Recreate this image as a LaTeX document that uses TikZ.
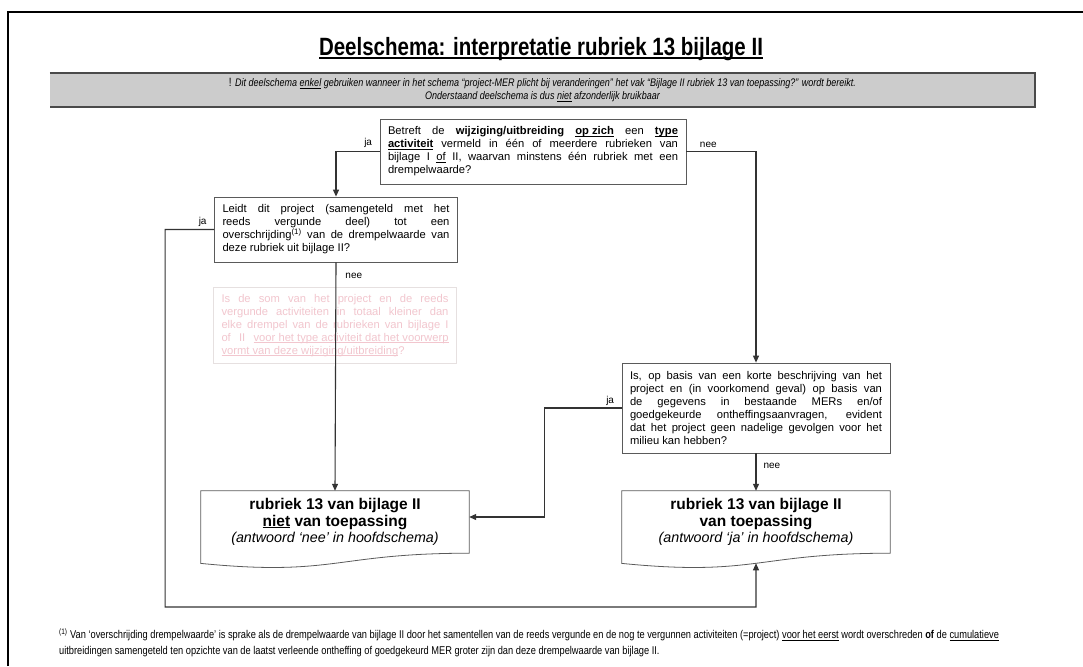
\documentclass[tikz,border=0pt]{standalone}
\usepackage{fontspec}
\setmainfont{Liberation Sans}
\newfontfamily\smalfont[FakeStretch=0.82]{Liberation Sans}
\usetikzlibrary{arrows.meta, calc}
\definecolor{mRand}{HTML}{5A5A5A}
\definecolor{mLijn}{HTML}{333333}
\definecolor{mBalk}{HTML}{CCCCCC}
\definecolor{mBalkRand}{HTML}{4A4A4A}
\definecolor{mVaag}{HTML}{F2C6CE}
\definecolor{mVaagRand}{HTML}{E6E0E0}
\hyphenpenalty=10000
\exhyphenpenalty=10000
\tolerance=9999
% onderstreping
\newcommand\ond[1]{\setbox0\hbox{#1}\rlap{\rule[-1.8pt]{\wd0}{0.7pt}}\box0\relax}
\newcommand\dikond[1]{\setbox0\hbox{#1}\rlap{\rule[-3.6pt]{\wd0}{1.6pt}}\box0\relax}

\begin{document}
\begin{tikzpicture}[x=1pt, y=-1pt,
    vraag/.style={draw=mRand, line width=0.8pt, fill=white, align=justify, inner xsep=8pt, inner ysep=4pt,
      font=\fontsize{11.2}{13}\selectfont},
    vaag/.style={vraag, draw=mVaagRand, text=mVaag},
    uitkomst/.style={align=center, inner sep=0pt, minimum width=268pt, minimum height=62pt,
      font=\fontsize{15.5}{16.5}\selectfont\bfseries},
    doc/.style={draw=mRand, line width=0.8pt},
    pijl/.style={-{Triangle[length=7pt, width=6pt]}, line width=1.1pt, draw=mLijn},
    lbl/.style={font=\fontsize{10}{11}\selectfont, inner sep=1pt}]
  \useasboundingbox (0,0) rectangle (1083,666);
  % kader
  \draw[line width=2pt] (8,666) -- (8,12.5) -- (1083,12.5);

  % titel en balk
  \node (titel) at (541,49) {\fontsize{25}{28}\smalfont\bfseries\dikond{Deelschema: interpretatie rubriek 13 bijlage II}};
  \node[fill=mBalk, minimum width=985pt, minimum height=34pt, inner sep=0pt, align=center,
        font=\fontsize{11}{13}\smalfont\itshape] (balk) at (542.5,90)
    {\textup{\large !} Dit deelschema \ond{enkel} gebruiken wanneer in het schema “project-MER plicht bij veranderingen” het vak “Bijlage II rubriek 13 van toepassing?” wordt bereikt.\\
     Onderstaand deelschema is dus \ond{niet} afzonderlijk bruikbaar};
  \draw[line width=1.6pt, mBalkRand] (balk.north west) -- (balk.north east) -- (balk.south east) -- (balk.south west);

  % vragen
  \node[vraag, text width=290pt, minimum height=65pt] (vraagType) at (533,151.5)
    {Betreft de \textbf{wijziging/uitbreiding} \textbf{\ond{op zich}} een \textbf{\ond{type}}\linebreak
     \textbf{\ond{activiteit}} vermeld in één of meerdere rubrieken van\linebreak
     bijlage I \ond{of} II, waarvan minstens één rubriek met een\linebreak
     drempelwaarde?};
  \node[vraag, text width=227pt, minimum height=65pt] (vraagDrempel) at (336,229.5)
    {Leidt dit project (samengeteld met het\linebreak
     reeds vergunde deel) tot een\linebreak
     overschrijding\textsuperscript{(1)} van de drempelwaarde van\linebreak
     deze rubriek uit bijlage II?};
  \node[vaag, text width=227pt, minimum height=76pt] (vraagSom) at (335,325.5)
    {Is de som van het project en de reeds\linebreak
     vergunde activiteiten in totaal kleiner dan\linebreak
     elke drempel van de rubrieken van bijlage I\linebreak
     of II \ond{voor het type activiteit dat het voorwerp}\linebreak
     \ond{vormt van deze wijziging/uitbreiding}?};
  \node[vraag, text width=252pt, minimum height=90pt] (vraagMilieu) at (756,408)
    {Is, op basis van een korte beschrijving van het\linebreak
     project en (in voorkomend geval) op basis van\linebreak
     de gegevens in bestaande MERs en/of\linebreak
     goedgekeurde ontheffingsaanvragen, evident\linebreak
     dat het project geen nadelige gevolgen voor het\linebreak
     milieu kan hebben?};

  % uitkomsten
  \node[uitkomst] (resNiet) at (335,522)
    {rubriek 13 van bijlage II\\ \ond{niet} van toepassing\\
     {\fontsize{14.3}{18}\selectfont\mdseries\itshape (antwoord ‘nee’ in hoofdschema)}};
  \node[uitkomst] (resWel) at (756,522)
    {rubriek 13 van bijlage II\\ van toepassing\\
     {\fontsize{14.3}{18}\selectfont\mdseries\itshape (antwoord ‘ja’ in hoofdschema)}};
  \draw[doc] (resNiet.south east) .. controls (resNiet.south) and ([yshift=-23.5pt]resNiet.south)
    .. ([yshift=-10.2pt]resNiet.south west) -- (resNiet.north west) -- (resNiet.north east) -- cycle;
  \draw[doc] (resWel.south east) .. controls (resWel.south) and ([yshift=-23.5pt]resWel.south)
    .. ([yshift=-10.2pt]resWel.south west) coordinate[pos=0.5] (resWelGolf)
    -- (resWel.north west) -- (resWel.north east) -- cycle;
  \coordinate (lus) at (756,607);

  % verbindingen
  \draw[pijl] (vraagType.west) -| (vraagDrempel.north) node[lbl, pos=0, anchor=south east, xshift=-6pt, yshift=2pt] {ja};
  \draw[pijl] (vraagType.east) -| (vraagMilieu.north) node[lbl, pos=0, anchor=south west, xshift=12pt, yshift=2pt] {nee};
  \draw[pijl] (vraagDrempel.south) -- (resNiet.north) node[lbl, pos=0.06, anchor=west, xshift=8pt] {nee};
  \draw[pijl] (vraagDrempel.west) -- node[lbl, pos=0, anchor=south east, xshift=-6pt, yshift=1pt] {ja} ++(-49,0) |- (lus) -- (resWelGolf);
  \draw[pijl] (vraagMilieu.west) -- node[lbl, pos=0, anchor=south east, xshift=-6pt, yshift=1pt] {ja} ++(-77,0)
    |- ($(resNiet.north east)!0.42!(resNiet.south east)$);
  \draw[pijl] (vraagMilieu.south) -- (resWel.north) node[lbl, pos=0.33, anchor=west, xshift=6pt] {nee};

  % voetnoot
  \node[anchor=west, align=left, inner sep=0pt, font=\fontsize{11.3}{16.5}\smalfont] (voetnoot) at (59,643)
    {\textsuperscript{(1)} Van ‘overschrijding drempelwaarde’ is sprake als de drempelwaarde van bijlage II door het samentellen van de reeds vergunde en de nog te vergunnen activiteiten (=project) \ond{voor het eerst} wordt overschreden \textbf{of} de \ond{cumulatieve}\\
     uitbreidingen samengeteld ten opzichte van de laatst verleende ontheffing of goedgekeurd MER groter zijn dan deze drempelwaarde van bijlage II.};
\end{tikzpicture}
\end{document}
